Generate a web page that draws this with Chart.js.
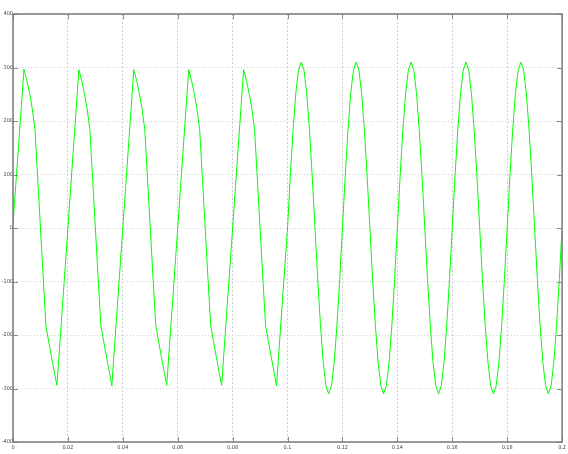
<!DOCTYPE html>
<html>
<head>
<meta charset="utf-8">
<script src="https://cdn.jsdelivr.net/npm/chart.js@4"></script>
<style>
  html, body { margin: 0; padding: 0; background: #fff; }
  #wrap { width: 568px; height: 454px; }
</style>
</head>
<body>
<div id="wrap"><canvas id="c"></canvas></div>
<script>
const dt = 0.001;
const volts = [
  // 0 - 0.1 : distorted wave
  8, 80, 152, 225, 297, 277, 253, 224, 185, 93, 0, -92, -183, -212, -240, -268, -294, -221, -147, -74,
  0, 74, 148, 222, 296, 276, 252, 223, 184, 92, 0, -92, -182, -211, -239, -267, -295, -220, -147, -73,
  0, 74, 148, 222, 296, 276, 252, 223, 184, 92, 0, -92, -182, -211, -239, -267, -294, -220, -147, -73,
  0, 74, 148, 222, 296, 276, 252, 223, 184, 92, 0, -92, -182, -211, -239, -267, -294, -220, -147, -73,
  0, 74, 148, 222, 296, 276, 252, 223, 184, 92, 0, -92, -182, -211, -239, -267, -295, -220, -147, -73,
  // 0.1 - 0.2 : sinusoidal
  0, 96, 182, 251, 295, 310, 295, 251, 182, 96, 0, -96, -182, -251, -295, -310, -295, -251, -182, -96,
  0, 96, 182, 251, 295, 310, 295, 251, 182, 96, 0, -96, -182, -251, -295, -310, -295, -251, -182, -96,
  0, 96, 182, 251, 295, 310, 295, 251, 182, 96, 0, -96, -182, -251, -295, -310, -295, -251, -182, -96,
  0, 96, 182, 251, 295, 310, 295, 251, 182, 96, 0, -96, -182, -251, -295, -310, -295, -251, -182, -96,
  0, 96, 182, 251, 295, 310, 295, 251, 182, 96, 0, -96, -182, -251, -295, -310, -295, -251, -182, -96,
  0
];
const xTicks = [0, 0.02, 0.04, 0.06, 0.08, 0.1, 0.12, 0.14, 0.16, 0.18, 0.2];
const xTickLabels = ['0', '0.02', '0.04', '0.06', '0.08', '0.1', '0.12', '0.14', '0.16', '0.18', '0.2'];
const yTicks = [-400, -300, -200, -100, 0, 100, 200, 300, 400];

const points = volts.map((v, i) => ({ x: i * dt, y: v }));

// box + inward tick marks like matlab
const boxPlugin = {
  id: 'box',
  afterDraw(chart) {
    const { ctx, chartArea: a, scales } = chart;
    ctx.save();
    ctx.strokeStyle = '#8a8a8a';
    ctx.lineWidth = 1;
    ctx.beginPath();
    xTicks.forEach(t => {
      const px = Math.round(scales.x.getPixelForValue(t)) + 0.5;
      ctx.moveTo(px, a.bottom); ctx.lineTo(px, a.bottom - 5);
      ctx.moveTo(px, a.top); ctx.lineTo(px, a.top + 5);
    });
    yTicks.forEach(t => {
      const py = Math.round(scales.y.getPixelForValue(t)) + 0.5;
      ctx.moveTo(a.left, py); ctx.lineTo(a.left + 5, py);
      ctx.moveTo(a.right, py); ctx.lineTo(a.right - 5, py);
    });
    ctx.stroke();
    ctx.strokeStyle = '#7a7a7a';
    ctx.lineWidth = 1.5;
    ctx.strokeRect(a.left, a.top, a.right - a.left, a.bottom - a.top);
    ctx.restore();
  }
};

new Chart(document.getElementById('c'), {
  type: 'line',
  data: {
    datasets: [{
      data: points,
      borderColor: '#00ff00',
      borderWidth: 1,
      pointRadius: 0,
      tension: 0,
      fill: false
    }]
  },
  options: {
    responsive: true,
    maintainAspectRatio: false,
    animation: false,
    layout: { padding: { left: 0, top: 14, right: 5, bottom: 0 } },
    plugins: { legend: { display: false }, tooltip: { enabled: false } },
    scales: {
      x: {
        type: 'linear',
        min: 0,
        max: 0.2,
        afterBuildTicks(scale) { scale.ticks = xTicks.map(v => ({ value: v })); },
        afterFit(scale) { scale.height = 12; },
        ticks: {
          autoSkip: false,
          maxRotation: 0,
          padding: 2,
          color: '#444',
          font: { family: 'DejaVu Sans Condensed', size: 5.5 },
          callback: (v, i) => xTickLabels[i]
        },
        grid: { color: '#cfcfcf', drawTicks: false },
        border: { display: false, dash: [2, 2] }
      },
      y: {
        min: -400,
        max: 400,
        afterBuildTicks(scale) { scale.ticks = yTicks.map(v => ({ value: v })); },
        afterFit(scale) { scale.width = 13; },
        ticks: {
          padding: 0,
          color: '#444',
          font: { family: 'DejaVu Sans Condensed', size: 5.5 },
          callback: v => String(v)
        },
        grid: { color: '#cfcfcf', drawTicks: false },
        border: { display: false, dash: [1, 2] }
      }
    }
  },
  plugins: [boxPlugin]
});
</script>
</body>
</html>
